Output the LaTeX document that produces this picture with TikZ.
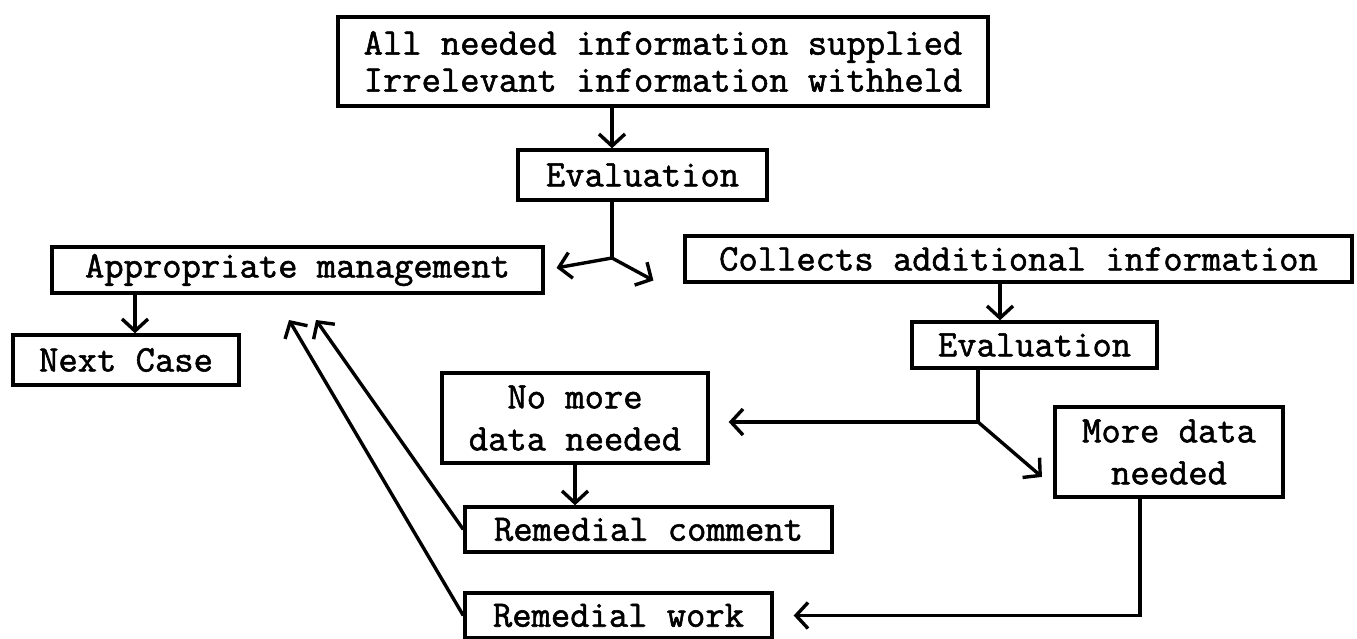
\documentclass[tikz,border=0pt]{standalone}
\usepackage{fontspec}
\setmonofont{Latin Modern Mono}[FakeBold=1.5]
\usetikzlibrary{arrows.meta}
\tikzstyle{box}=[rectangle,draw=black,line width=3.4pt,inner sep=0pt,align=center,font=\fontsize{37.5}{42}\selectfont\ttfamily]
\tikzstyle{flow}=[line width=3.4pt,-{Straight Barb[length=12pt,width=26pt]}]

\begin{document}
\begin{tikzpicture}[x=1pt, y=-1pt]
  \useasboundingbox (0,0) rectangle (1357,639);
  \node [box, minimum width=650pt, minimum height=89pt, font=\fontsize{37.5}{37}\selectfont\ttfamily] (info) at (663,61.5) {All needed information supplied\\Irrelevant information withheld};
  \node [box, minimum width=249pt, minimum height=50pt] (evala) at (642.5,175) {Evaluation};
  \node [box, minimum width=491pt, minimum height=46pt] (manage) at (297.5,270) {Appropriate management};
  \node [box, minimum width=667pt, minimum height=46pt] (collect) at (1018.5,259) {Collects additional information};
  \node [box, minimum width=226pt, minimum height=50pt] (next) at (126,360) {Next Case};
  \node [box, minimum width=245pt, minimum height=46pt] (evalb) at (1034.5,345) {Evaluation};
  \node [box, minimum width=266pt, minimum height=90pt] (nomore) at (575,418) {No more\\data needed};
  \node [box, minimum width=228pt, minimum height=90pt] (moredata) at (1169,452) {More data\\needed};
  \node [box, minimum width=367pt, minimum height=45pt] (comment) at (648.5,529.5) {Remedial comment};
  \node [box, minimum width=307pt, minimum height=45pt] (work) at (618.5,615.5) {Remedial work};

  \coordinate (j1) at (612,258);
  \coordinate (j2) at (978,422);
  \coordinate (ta) at (289,320);
  \coordinate (tb) at (316,320);
  \coordinate (n1) at ([xshift=9pt]next.north);
  \coordinate (e1) at ([xshift=-34.5pt]evalb.north);

  \draw [flow] (info.south -| j1) -- (evala.north -| j1);
  \draw [line width=3.4pt] (evala.south -| j1) -- (j1);
  \draw [flow, shorten >=12pt] (j1) -- (manage.east);
  \draw [flow, shorten >=34pt] (j1) -- ([yshift=-13pt]collect.south west);
  \draw [flow] (manage.south -| n1) -- (n1);
  \draw [flow] (collect.south -| e1) -- (e1);
  \draw [line width=3.4pt] (evalb.south -| j2) -- (j2);
  \draw [flow, shorten >=19pt] (j2) -- (nomore.east |- j2);
  \draw [flow, shorten >=15pt] (j2) -- ([yshift=12pt]moredata.south west);
  \draw [flow] (nomore.south) -- (comment.north -| nomore.south);
  \draw [flow, shorten >=20pt] ([xshift=-29pt]moredata.south) |- (work.east);
  \draw [flow] (comment.west) -- (tb);
  \draw [flow] (work.west) -- (ta);
\end{tikzpicture}
\end{document}
